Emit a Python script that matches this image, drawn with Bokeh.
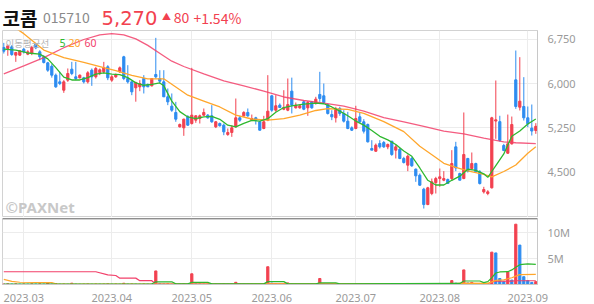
from bokeh.plotting import figure
from bokeh.layouts import column
from bokeh.models import Range1d, FixedTicker, NumeralTickFormatter, Span
from bokeh.core.properties import value
from bokeh.embed import file_html
from bokeh.resources import INLINE

# ---------------- data ----------------
opens = [6614, 6597, 6625, 6483, 6483, 6585, 6500, 6511, 6670, 6540,
         6455, 6352, 6295, 6142, 6028, 5886, 6057, 6244, 6114, 6097,
         6097, 6028, 6227, 6114, 6187, 6199, 6284, 6057, 6114, 6199,
         6455, 6085, 6028, 5926, 5943, 6085, 5983, 5960, 6153, 6085,
         6028, 5773, 5614, 5506, 5261, 5244, 5432, 5318, 5375, 5403,
         5460, 5460, 5449, 5261, 5318, 5290, 5131, 5165, 5261, 5415,
         5449, 5506, 5375, 5415, 5347, 5233, 5375, 5790, 5545, 5631,
         5562, 5545, 5870, 5585, 5585, 5687, 5585, 5687, 5659, 5813,
         5790, 5642, 5471, 5415, 5574, 5489, 5358, 5244, 5233, 5432,
         5347, 5301, 4892, 4846, 4977, 4994, 4920, 5017, 4864, 4880,
         4722, 4608, 4722, 4540, 4437, 4199, 3937, 4125, 4310, 4380,
         4352, 4363, 4380, 4920, 4466, 4380, 4722, 4551, 4636, 4494,
         4153, 4125, 4222, 5360, 5350, 4943, 4812, 4971, 6062, 5596,
         5608, 5415, 5239, 5199]
highs = [6693, 6665, 6653, 6540, 6568, 6608, 6568, 6642, 6693, 6568,
         6483, 6369, 6330, 6170, 6199, 6057, 6256, 6369, 6369, 6153,
         6114, 6210, 6256, 6284, 6256, 6369, 6312, 6142, 6170, 6290,
         6472, 6312, 6040, 6030, 6057, 6142, 6000, 6085, 6778, 6227,
         6227, 5915, 5830, 5687, 5318, 5400, 5460, 6267, 5460, 5471,
         5574, 5480, 5631, 5360, 5335, 5318, 5233, 5290, 5744, 5449,
         5528, 5574, 5471, 5432, 5360, 5449, 6142, 5801, 5801, 5660,
         5886, 6085, 6100, 5676, 5640, 5716, 5700, 5700, 5773, 6199,
         6000, 5659, 5545, 5602, 5602, 5545, 5517, 5270, 5620, 5506,
         5392, 5318, 5034, 4977, 5034, 5020, 4977, 5017, 4960, 4903,
         4750, 4790, 4750, 4551, 4466, 4222, 4239, 4380, 4409, 4551,
         4506, 4380, 4864, 5006, 4480, 5506, 4733, 4824, 4650, 4523,
         4239, 4182, 5432, 6051, 5450, 4971, 5471, 5437, 6562, 6449,
         6108, 5608, 5642, 5324]
lows = [6511, 6472, 6472, 6369, 6472, 6511, 6483, 6483, 6585, 6398,
        6341, 6199, 6100, 5926, 5972, 5841, 6028, 6142, 6057, 6085,
        6000, 6000, 5960, 6085, 6142, 6170, 6057, 6028, 6097, 6180,
        6057, 6000, 5801, 5690, 5869, 5830, 5940, 5950, 6085, 6000,
        5770, 5631, 5517, 5347, 5250, 5108, 5278, 5300, 5330, 5318,
        5449, 5400, 5330, 5240, 5265, 5119, 5108, 5091, 5244, 5347,
        5432, 5432, 5358, 5301, 5200, 5221, 5358, 5517, 5517, 5580,
        5545, 5528, 5489, 5574, 5570, 5545, 5449, 5570, 5640, 5687,
        5659, 5471, 5375, 5335, 5449, 5335, 5221, 5190, 5221, 5330,
        5148, 4994, 4864, 4835, 4892, 4903, 4880, 4767, 4722, 4710,
        4636, 4506, 4580, 4324, 4256, 3869, 3926, 4096, 4125, 4239,
        4335, 4290, 4352, 4506, 4352, 4369, 4483, 4523, 4494, 4278,
        4125, 4096, 4210, 5057, 5010, 4846, 4800, 4960, 5568, 5540,
        5369, 5256, 5113, 5142]
closes = [6551, 6642, 6494, 6528, 6557, 6540, 6540, 6614, 6608, 6455,
          6358, 6227, 6142, 5943, 6000, 6028, 6170, 6170, 6085, 6142,
          6028, 6182, 6114, 6256, 6233, 6267, 6097, 6114, 6153, 6267,
          6085, 6028, 5858, 6017, 6000, 5943, 5943, 6085, 6114, 6040,
          5773, 5687, 5545, 5392, 5301, 5392, 5290, 5460, 5449, 5449,
          5506, 5415, 5347, 5347, 5280, 5176, 5165, 5244, 5415, 5375,
          5506, 5449, 5403, 5375, 5204, 5347, 5528, 5545, 5620, 5591,
          5591, 5640, 5631, 5631, 5620, 5562, 5676, 5585, 5733, 5744,
          5676, 5489, 5432, 5574, 5489, 5358, 5233, 5204, 5403, 5347,
          5187, 5006, 4864, 4949, 4920, 4920, 4960, 4790, 4920, 4722,
          4653, 4761, 4597, 4426, 4267, 3937, 4222, 4324, 4380, 4409,
          4380, 4295, 4636, 4560, 4352, 4790, 4506, 4636, 4494, 4295,
          4193, 4153, 5415, 5381, 5030, 4858, 4971, 5301, 5608, 5699,
          5415, 5312, 5190, 5270]
volume_m = [0.10, 0.14, 0.09, 0.12, 0.08, 0.11, 0.07, 0.12, 0.10, 0.13,
            0.09, 0.30, 0.11, 0.18, 0.08, 0.10, 0.07, 0.25, 0.09, 0.06,
            0.08, 0.11, 0.07, 0.10, 0.08, 0.09, 0.12, 0.08, 0.10, 0.07,
            0.24, 0.09, 0.11, 0.08, 0.06, 0.10, 0.08, 0.07, 2.60, 0.20,
            0.12, 0.15, 0.09, 0.11, 0.08, 0.14, 0.10, 2.05, 0.15, 0.12,
            0.09, 0.11, 0.08, 0.10, 0.07, 0.12, 0.09, 0.08, 0.42, 0.11,
            0.09, 0.07, 0.10, 0.08, 0.06, 0.11, 3.40, 0.25, 0.14, 0.10,
            0.12, 0.30, 0.15, 0.10, 0.08, 0.07, 0.09, 0.08, 0.10, 1.15,
            0.13, 0.09, 0.11, 0.08, 0.07, 0.10, 0.08, 0.06, 0.12, 0.09,
            0.08, 0.11, 0.10, 0.08, 0.07, 0.09, 0.08, 0.10, 0.07, 0.09,
            0.08, 0.10, 0.07, 0.09, 0.11, 0.16, 0.12, 0.10, 0.14, 0.20,
            0.15, 0.12, 0.75, 0.25, 0.18, 2.80, 0.30, 0.40, 0.15, 0.20,
            0.14, 0.10, 6.20, 6.05, 1.15, 0.55, 2.40, 0.85, 11.55, 7.55,
            1.50, 0.75, 0.40, 0.55]

# price moving averages, read at sample days
ma5_day = [0, 3, 6, 9, 11, 13, 15, 17, 19, 21, 23, 25, 27, 29, 31, 33, 35, 37, 39, 40,
           42, 44, 46, 48, 50, 52, 54, 56, 58, 60, 62, 64, 66, 68, 70, 72, 75, 78, 80, 82,
           84, 86, 88, 90, 92, 94, 96, 98, 100, 102, 104, 106, 108, 110, 112, 114, 116, 118,
           120, 121, 122, 123, 125, 127, 129, 131, 133]
ma5_val = [6585, 6570, 6520, 6500, 6420, 6270, 6110, 6060, 6060, 6100, 6160, 6180, 6160,
           6150, 6100, 6010, 5970, 5985, 6010, 5960, 5700, 5520, 5430, 5400, 5430, 5440,
           5390, 5290, 5260, 5320, 5370, 5360, 5400, 5510, 5590, 5620, 5650, 5665, 5655,
           5600, 5530, 5450, 5360, 5290, 5200, 5100, 5040, 4960, 4850, 4760, 4560, 4350,
           4270, 4270, 4350, 4420, 4540, 4520, 4460, 4400, 4500, 4600, 4800, 5100, 5190,
           5310, 5395]
ma20_day = [0, 5, 10, 15, 20, 25, 28, 32, 36, 40, 43, 46, 50, 54, 58, 62, 66, 70, 74, 78,
            81, 86, 90, 95, 100, 104, 108, 110, 113, 116, 120, 122, 125, 128, 131, 133]
ma20_val = [7080, 6850, 6570, 6440, 6360, 6270, 6220, 6140, 6080, 6080, 5940, 5800, 5700,
            5600, 5460, 5395, 5375, 5400, 5460, 5540, 5570, 5560, 5490, 5350, 5180, 4930,
            4740, 4640, 4570, 4510, 4450, 4410, 4500, 4610, 4810, 4920]
ma60_day = [0, 5, 10, 15, 20, 24, 27, 30, 33, 36, 40, 42, 45, 50, 55, 60, 65, 70, 75, 80,
            85, 90, 95, 100, 105, 110, 115, 120, 125, 128, 133]
ma60_val = [6165, 6300, 6440, 6610, 6750, 6830, 6850, 6830, 6760, 6650, 6470, 6380, 6290,
            6165, 6045, 5960, 5870, 5770, 5710, 5665, 5615, 5530, 5420, 5345, 5270, 5190,
            5140, 5070, 5005, 4990, 4975]

# volume moving averages (millions), read at sample days
vma5_day = [0, 37, 38, 42, 43, 46, 47, 51, 52, 65, 66, 70, 71, 78, 79, 83, 84, 114, 115,
            119, 120, 121, 122, 123, 124, 126, 127, 128, 129, 131, 133]
vma5_val = [0.10, 0.10, 0.52, 0.52, 0.12, 0.12, 0.40, 0.40, 0.12, 0.12, 0.55, 0.55, 0.12,
            0.12, 0.30, 0.30, 0.12, 0.20, 0.67, 0.67, 0.35, 0.55, 1.30, 2.20, 2.40, 2.45,
            2.80, 3.30, 3.80, 3.95, 3.85]
vma20_day = [0, 2, 4, 12, 13, 60, 111, 115, 121, 122, 123, 125, 126, 127, 128, 129, 133]
vma20_val = [0.98, 0.61, 0.43, 0.37, 0.12, 0.10, 0.12, 0.25, 0.22, 0.50, 0.80, 0.90, 1.10,
             1.30, 1.60, 1.90, 1.95]
vma60_day = [0, 23, 26, 28, 29, 33, 34, 37, 38, 121, 122, 123, 127, 128, 133]
vma60_val = [2.44, 2.44, 1.83, 1.72, 1.22, 1.22, 0.73, 0.73, 0.10, 0.15, 0.50, 0.62, 0.65,
             0.72, 0.72]

month_day = [5, 27, 47, 67, 88, 109, 131]
month_label = ["2023.03", "2023.04", "2023.05", "2023.06", "2023.07", "2023.08", "2023.09"]
price_ticks = [4500, 5250, 6000, 6750]
vol_ticks = [5, 10]
vol_tick_label = ["5M", "10M"]

name = "코콤"
code = "015710"
last_price = "5,270"
change = "80"
change_pct = "+1.54%"

# ---------------- styling ----------------
UP = "#f2414f"
DOWN = "#2d8cf0"
C5 = "#2eb82e"
C20 = "#ffa62b"
C60 = "#f2406a"
GRID = "#ececec"
FRAME = "#d2d2d2"
LABEL = "#9a9a9a"
FONT = "Noto Sans"
KFONT = "Noto Sans CJK KR"

n = len(closes)
days = list(range(n))
cndl_col = [UP if c >= o else DOWN for o, c in zip(opens, closes)]
body_top = [max(o, c) for o, c in zip(opens, closes)]
body_bot = [min(o, c) for o, c in zip(opens, closes)]
vol_col = [UP if i == 0 or volume_m[i] >= volume_m[i - 1] else DOWN for i in range(n)]

XR = Range1d(-0.325, 133.425)
PX_PER_DAY = 4.0


def px_x(px):
    return -0.325 + (px - 2) / PX_PER_DAY


P_TOP, P_BOT = 6903.4, 3716.0


def px_y(py):
    return P_TOP - (py - 30) * (P_TOP - P_BOT) / 187.0


# ---------------- header ----------------
hdr = figure(width=594, height=30, x_range=Range1d(0, 594), y_range=Range1d(30, 0),
             output_backend="svg", toolbar_location=None, min_border=0,
             x_axis_location=None, y_axis_location=None)
hdr.grid.visible = False
hdr.outline_line_color = None
hdr.text(x=[0], y=[17], text=[name], text_font=value(KFONT), text_font_size="19px",
         text_font_style="bold", text_color="#111111", text_baseline="alphabetic")
hdr.text(x=[45], y=[17], text=[code], text_font=value(KFONT), text_font_size="14px",
         text_color="#8a8a8a", text_baseline="alphabetic")
hdr.text(x=[110], y=[17.5], text=[last_price], text_font=value("DejaVu Sans"),
         text_font_size="19.5px", text_color=UP, text_baseline="alphabetic")
hdr.text(x=[177], y=[15.5], text=["▲"], text_font=value(KFONT), text_font_size="9px",
         text_color=UP, text_baseline="alphabetic")
hdr.text(x=[190], y=[17], text=[change], text_font=value(KFONT), text_font_size="14px",
         text_color=UP, text_baseline="alphabetic")
hdr.text(x=[212], y=[17], text=[change_pct], text_font=value(KFONT), text_font_size="14px",
         text_color=UP, text_baseline="alphabetic")

# ---------------- price panel ----------------
p = figure(width=594, height=187, x_range=XR, y_range=Range1d(P_BOT, P_TOP),
           output_backend="svg", toolbar_location=None, y_axis_location="right",
           x_axis_location=None, min_border_left=2, min_border_right=57,
           min_border_top=0, min_border_bottom=0)
p.outline_line_color = FRAME
p.xgrid.ticker = FixedTicker(ticks=month_day)
p.ygrid.ticker = FixedTicker(ticks=price_ticks)
p.grid.grid_line_color = GRID
p.yaxis.ticker = FixedTicker(ticks=price_ticks)
p.yaxis.formatter = NumeralTickFormatter(format="0,0")
p.yaxis.major_tick_line_color = None
p.yaxis.minor_tick_line_color = None
p.yaxis.axis_line_color = "#c8c8c8"
p.yaxis.major_label_text_font = FONT
p.yaxis.major_label_text_font_size = "11px"
p.yaxis.major_label_text_color = LABEL
p.yaxis.major_label_standoff = 4

p.segment(x0=days, y0=lows, x1=days, y1=highs, line_color=cndl_col, line_width=1)
p.vbar(x=days, width=0.55, top=body_top, bottom=body_bot, fill_color=cndl_col,
       line_color=cndl_col, line_width=1)
p.line(ma60_day, ma60_val, line_color=C60, line_width=1.3, line_alpha=0.85)
p.line(ma20_day, ma20_val, line_color=C20, line_width=1.3)
p.line(ma5_day, ma5_val, line_color=C5, line_width=1.3)

p.text(x=[px_x(5)], y=[px_y(42)], text=["이동평균선"], text_font=value(KFONT),
       text_font_size="9.5px", text_color="#b4b4b4", text_baseline="middle")
p.text(x=[px_x(59)], y=[px_y(42)], text=["5"], text_font=value(FONT),
       text_font_size="10.5px", text_color=C5, text_baseline="middle")
p.text(x=[px_x(68)], y=[px_y(42)], text=["20"], text_font=value(FONT),
       text_font_size="10.5px", text_color=C20, text_baseline="middle")
p.text(x=[px_x(84)], y=[px_y(42)], text=["60"], text_font=value(FONT),
       text_font_size="10.5px", text_color=C60, text_baseline="middle")
p.text(x=[px_x(5)], y=[px_y(206.5)], text=["©PAXNet"], text_font=value(FONT),
       text_font_size="15px", text_font_style="bold", text_color="#c8c8c8",
       text_baseline="middle")

# ---------------- volume panel ----------------
V_TOP = 12.64
v = figure(width=594, height=87, x_range=XR, y_range=Range1d(0, V_TOP),
           output_backend="svg", toolbar_location=None, y_axis_location="right",
           min_border_left=2, min_border_right=57, min_border_top=1, min_border_bottom=17)
v.outline_line_color = FRAME
v.xgrid.ticker = FixedTicker(ticks=month_day)
v.ygrid.ticker = FixedTicker(ticks=vol_ticks)
v.grid.grid_line_color = GRID
v.yaxis.ticker = FixedTicker(ticks=vol_ticks)
v.yaxis.major_label_overrides = {t: s for t, s in zip(vol_ticks, vol_tick_label)}
v.xaxis.ticker = FixedTicker(ticks=month_day)
v.xaxis.major_label_overrides = {t: s for t, s in zip(month_day, month_label)}
for ax in (v.xaxis, v.yaxis):
    ax.major_tick_line_color = None
    ax.minor_tick_line_color = None
    ax.axis_line_color = "#c8c8c8"
    ax.major_label_text_font = FONT
    ax.major_label_text_font_size = "11px"
    ax.major_label_text_color = LABEL
v.yaxis.major_label_standoff = 4
v.xaxis.major_label_standoff = 3

v.vbar(x=days, width=0.55, top=volume_m, bottom=0, fill_color=vol_col,
       line_color=vol_col, line_width=1)
v.line(vma60_day, vma60_val, line_color=C60, line_width=1.2)
v.line(vma20_day, vma20_val, line_color=C20, line_width=1.2)
v.line(vma5_day, vma5_val, line_color=C5, line_width=1.2)
v.add_layout(Span(location=V_TOP, dimension="width", line_color="#4a4a4a", line_width=1.5))

layout = column(hdr, p, v, spacing=0)
open("out.html", "w").write(file_html(layout, INLINE))
